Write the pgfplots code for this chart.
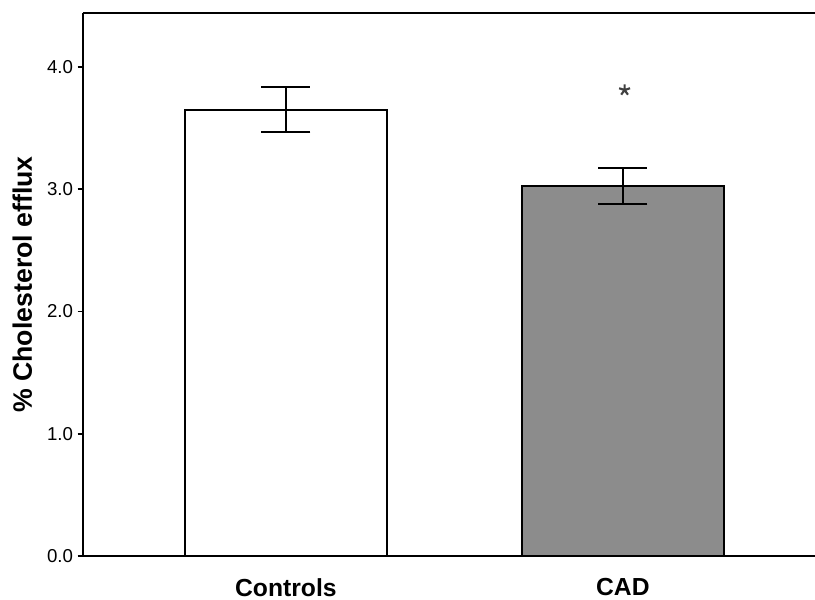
\documentclass[border=0pt]{standalone}
\usepackage{fontspec}
\setmainfont{Liberation Sans}
\usepackage{pgfplots}
\pgfplotsset{compat=1.18}
\definecolor{cadgray}{HTML}{8C8C8C}
\begin{document}
\begin{tikzpicture}
\begin{axis}[
  scale only axis, width=549pt, height=407.25pt,
  xmin=-0.602, xmax=1.57, ymin=0, ymax=4.44,
  axis x line=box, axis y line=left,
  axis line style={-, line width=1.5pt},
  xtick={0,1}, xticklabels={Controls,CAD},
  xtick style={draw=none},
  xticklabel style={font=\fontsize{18.5}{20}\selectfont\bfseries, yshift=-9.5pt},
  ytick={0,1,2,3,4},
  yticklabel style={font=\fontsize{14}{16}\selectfont, /pgf/number format/.cd, fixed, fixed zerofill, precision=1},
  /pgf/number format/assume math mode=true,
  tick align=outside, major tick length=4pt,
  ytick style={line width=1.3pt, black},
  ylabel={\% Cholesterol efflux},
  every axis y label/.style={at={(rel axis cs:0,0.5)}, xshift=-45.5pt, rotate=90, anchor=center, font=\fontsize{20}{22}\selectfont\bfseries},
]
\addplot[ybar, bar width=0.6, bar shift=0pt, fill=white, draw=black, line width=1.4pt,
  error bars/.cd, y dir=both, y explicit,
  error bar style={line width=1.4pt, black},
  error mark options={rotate=90, mark size=18.4pt, line width=1.4pt, black}]
  coordinates {(0,3.65) +- (0,0.185)};
\addplot[ybar, bar width=0.6, bar shift=0pt, fill=cadgray, draw=black, line width=1.4pt,
  error bars/.cd, y dir=both, y explicit,
  error bar style={line width=1.4pt, black},
  error mark options={rotate=90, mark size=18.4pt, line width=1.4pt, black}]
  coordinates {(1,3.025) +- (0,0.147)};
\addplot[only marks, mark=star, mark size=4.3pt, mark options={line width=1.6pt, draw=black!75}]
  coordinates {(1.005,3.81)};
\coordinate (sw) at (rel axis cs:0,0);
\coordinate (ne) at (rel axis cs:1,1);
\end{axis}
\pgfresetboundingbox
\path[use as bounding box] ([xshift=-62.25pt,yshift=-33pt]sw) rectangle ([yshift=9.75pt]ne);
\end{tikzpicture}
\end{document}
